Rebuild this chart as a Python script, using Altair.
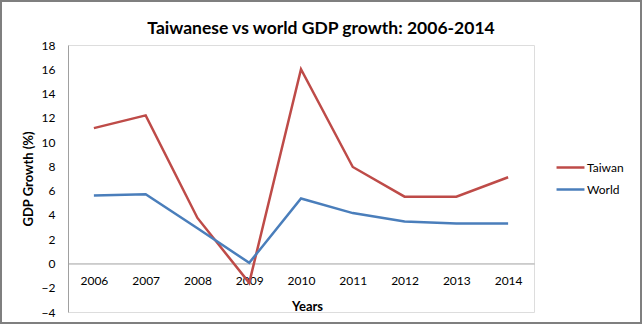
import altair as alt
import pandas as pd

years = ["2006", "2007", "2008", "2009", "2010", "2011", "2012", "2013", "2014"]
taiwan = [11.15, 12.2, 3.75, -1.6, 16.0, 7.95, 5.5, 5.5, 7.1]
world = [5.6, 5.7, 2.9, 0.05, 5.35, 4.15, 3.45, 3.3, 3.3]
series_names = ["Taiwan", "World"]
series_colors = ["#BE4B48", "#4A7EBB"]
y_ticks = list(range(-4, 19, 2))

rows = []
for i, yr in enumerate(years):
    rows.append({"Year": yr, "Series": "Taiwan", "Value": taiwan[i], "order": 0})
    rows.append({"Year": yr, "Series": "World", "Value": world[i], "order": 1})
df = pd.DataFrame(rows)

FONT = "Lato"
W, H = 466, 267
x_offset = -H * 4 / 22

lines = alt.Chart(df).mark_line(strokeWidth=2.5, strokeJoin="miter").encode(
    x=alt.X("Year:N", sort=years,
            scale=alt.Scale(type="point", padding=0.5),
            axis=alt.Axis(title="Years", labelAngle=0, ticks=False,
                          domainColor="#A0A0A0", domainWidth=1,
                          labelFont=FONT, labelFontSize=12, labelColor="#000000",
                          labelPadding=12, offset=x_offset,
                          titleFont=FONT, titleFontSize=13, titleFontWeight="bold",
                          titleColor="#000000", titlePadding=14, titleX=239)),
    y=alt.Y("Value:Q", scale=alt.Scale(domain=[-4, 18], nice=False, zero=False),
            axis=alt.Axis(title="GDP Growth (%)", values=y_ticks, grid=False,
                          ticks=False, domainColor="#A0A0A0", domainWidth=1,
                          labelFont=FONT, labelFontSize=12, labelColor="#000000",
                          labelPadding=13,
                          titleFont=FONT, titleFontSize=13, titleFontWeight="bold",
                          titleColor="#000000", titlePadding=6)),
    color=alt.Color("Series:N", sort=series_names,
                    scale=alt.Scale(domain=series_names, range=series_colors),
                    legend=alt.Legend(title=None, orient="none", legendX=490, legendY=110,
                                      symbolType="M-1.27,0H1.27", symbolSize=484,
                                      symbolStrokeWidth=2.5, symbolFillColor="transparent",
                                      rowPadding=3, labelOffset=4, padding=0,
                                      labelFont=FONT, labelFontSize=12,
                                      labelColor="#000000")),
    detail="Series:N",
)

frame = alt.Chart(pd.DataFrame({"a": [0]})).mark_rect(
    fill="transparent", stroke="#7F7F7F", strokeWidth=2
).encode(x=alt.value(-67), x2=alt.value(573), y=alt.value(-44), y2=alt.value(278))

chart = alt.layer(lines, frame).properties(
    width=W, height=H,
    padding={"left": 68, "top": 45, "right": 108, "bottom": 14},
    autosize=alt.AutoSizeParams(type="none"),
    title=alt.TitleParams("Taiwanese vs world GDP growth: 2006-2014", font=FONT,
                          fontSize=17.5, fontWeight="bold", color="#000000",
                          anchor="middle", frame="group", dx=20, offset=-37),
).configure_view(stroke=None).configure(background="white")

chart.save("out.html", embed_options={"renderer": "svg", "actions": False})
